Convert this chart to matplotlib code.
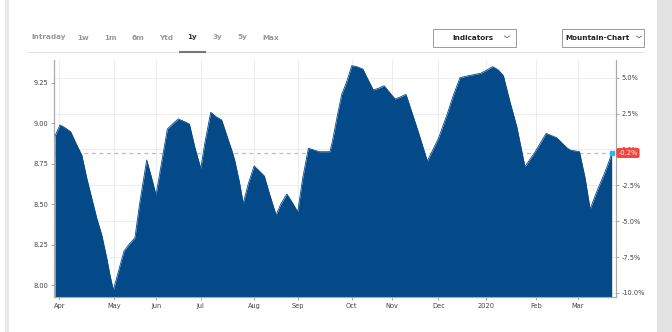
import matplotlib
matplotlib.use("Agg")
import matplotlib.pyplot as plt
from matplotlib.patches import Rectangle
from matplotlib.lines import Line2D

# ---- data ----
days = [0, 2.2, 4.4, 6.9, 9.6, 11.8, 14.0, 16.2, 18.4, 20.6, 22.8, 24.2, 25.7,
        27.9, 30.4, 33.0, 35.2, 37.4, 40.4, 42.6, 44.5, 47.0, 49.5, 52.1, 54.3,
        56.5, 59.2, 61.7, 64.2, 66.1, 68.6, 70.9, 73.4, 75.6, 78.3, 79.3, 81.2,
        82.9, 85.2, 87.7, 90.0, 92.2, 94.4, 97.4, 99.4, 102.1, 104.3, 106.9,
        109.1, 111.6, 116.4, 121.1, 122.3, 124.4, 126.3, 128.5, 130.7, 132.9,
        135.6, 137.6, 140.2, 142.4, 144.9, 147.3, 149.8, 152.3, 154.6, 157.1,
        160.0, 164.0, 168.9, 172.6, 175.5, 178.4, 182.1, 187.5, 190.2, 192.8,
        195.3, 197.5, 200.4, 203.4, 207.0, 211.5, 214.0, 216.3, 221.0, 225.4,
        226.9, 231.0, 233.5, 235.7, 238.6, 242.3, 244.5, 245.2]
prices = [8.920, 8.988, 8.971, 8.946, 8.864, 8.802, 8.659, 8.535, 8.412, 8.309,
          8.165, 8.062, 7.969, 8.082, 8.210, 8.257, 8.292, 8.514, 8.772, 8.659,
          8.556, 8.761, 8.963, 8.998, 9.025, 9.012, 8.994, 8.844, 8.720, 8.885,
          9.066, 9.039, 9.019, 8.926, 8.813, 8.761, 8.638, 8.504, 8.628, 8.735,
          8.704, 8.673, 8.566, 8.432, 8.498, 8.562, 8.514, 8.452, 8.659, 8.844,
          8.823, 8.823, 8.895, 9.049, 9.177, 9.255, 9.354, 9.348, 9.333, 9.276,
          9.204, 9.214, 9.230, 9.190, 9.148, 9.162, 9.177, 9.070, 8.946, 8.765,
          8.906, 9.049, 9.173, 9.280, 9.292, 9.307, 9.327, 9.348, 9.327, 9.292,
          9.131, 8.977, 8.730, 8.823, 8.881, 8.936, 8.909, 8.848, 8.833, 8.823,
          8.659, 8.469, 8.576, 8.699, 8.782, 8.815]
month_pos = [1.9, 25.9, 44.6, 64.2, 87.8, 106.9, 130.7, 148.5, 168.9, 189.7, 211.9, 230.3]
month_labels = ["Apr", "May", "Jun", "Jul", "Aug", "Sep", "Oct", "Nov", "Dec", "2020", "Feb", "Mar"]
price_ticks = [8.00, 8.25, 8.50, 8.75, 9.00, 9.25]
pct_ticks = [5.0, 2.5, 0.0, -2.5, -5.0, -7.5, -10.0]
last_change_label = "-0.2%"
tabs = ["Intraday", "1w", "1m", "6m", "Ytd", "1y", "3y", "5y", "Max"]
tab_x = [49, 83, 111, 138, 166, 192, 217, 242, 271]

W, H = 672, 332
fig = plt.figure(figsize=(W / 100, H / 100), dpi=100)
fig.patch.set_facecolor("white")

def fx(px):
    return px / W

def fy(py):
    return 1 - py / H

# side gray stripes
fig.add_artist(Rectangle((fx(657), 0), fx(15), 1, transform=fig.transFigure,
                         color="#e3e3e3", lw=0, zorder=0))
fig.add_artist(Rectangle((fx(5), 0), fx(4), 1, transform=fig.transFigure,
                         color="#e8e8e8", lw=0, zorder=0))

# tabs
for t, x in zip(tabs, tab_x):
    sel = (t == "1y")
    fig.text(fx(x), fy(37.5), t, ha="center", va="center", fontsize=5.2,
             fontweight="bold", color="#333333" if sel else "#999999")
fig.add_artist(Line2D([fx(27), fx(644)], [fy(51.5), fy(51.5)], transform=fig.transFigure,
                      color="#e6e6e6", lw=0.8))
fig.add_artist(Line2D([fx(180), fx(205)], [fy(51.5), fy(51.5)], transform=fig.transFigure,
                      color="#777777", lw=1.5))

# dropdown boxes
for (x0, x1, label, tx, cx) in [(433, 516, "Indicators", 473, 507),
                                (562, 644, "Mountain-Chart", 598, 639)]:
    fig.add_artist(Rectangle((fx(x0), fy(46.7)), fx(x1 - x0), fy(29) - fy(46.7),
                             transform=fig.transFigure, facecolor="white",
                             edgecolor="#9a9a9a", lw=0.7))
    fig.text(fx(tx), fy(38), label, ha="center", va="center", fontsize=5.2,
             fontweight="bold", color="#222222")
    fig.add_artist(Line2D([fx(cx - 2.5), fx(cx), fx(cx + 2.5)],
                          [fy(36), fy(37.8), fy(36)], transform=fig.transFigure,
                          color="#666666", lw=0.6))

# main axes
ax = fig.add_axes([fx(54), fy(297), fx(616 - 54), fy(60) - fy(297)])
ax.set_xlim(-0.44, 247.1)
ax.set_ylim(7.926, 9.389)
ax2 = ax.twinx()
ax2.set_ylim(-10.28, 6.23)

ax.set_zorder(2)
ax2.set_zorder(1)
ax.patch.set_visible(False)
ax.set_axisbelow(True)

fill_color = "#044a89"
ax.axhline(prices[-1], color="#f4a3a3", lw=0.9, ls=(0, (3, 3)), zorder=1)
ax.fill_between(days, prices, 7.926, color=fill_color, lw=0, zorder=2)
ax.plot(days, prices, color=fill_color, lw=0.6, zorder=3)
ax.plot([days[-1]], [prices[-1]], marker="s", ms=2.5, color="#29b6f6", zorder=4,
        clip_on=False)

ax.set_xticks(month_pos)
ax.set_xticklabels(month_labels)
ax.set_yticks(price_ticks)
ax.set_yticklabels([f"{v:.2f}" for v in price_ticks])
ax2.set_yticks(pct_ticks)
ax2.set_yticklabels([f"{v:.1f}%" for v in pct_ticks])

ax.grid(axis="x", color="#ececec", lw=0.7, zorder=0)
ax2.grid(axis="y", color="#ececec", lw=0.7)

for a in (ax, ax2):
    a.spines["top"].set_visible(False)
    for s in ("left", "right", "bottom"):
        a.spines[s].set_color("#aaaaaa")
        a.spines[s].set_linewidth(0.8)
    a.tick_params(labelsize=4.8, colors="#999999", labelcolor="#444444",
                  length=2.5, width=0.6, pad=1.5)

# last value label on right axis
yl = ax.transData.transform((0, prices[-1]))[1]
yfrac = fig.transFigure.inverted().transform((0, yl))[1]
fig.text(fx(628), yfrac, last_change_label, ha="center", va="center", fontsize=4.8,
         color="white",
         bbox=dict(boxstyle="round,pad=0.3,rounding_size=0.3", fc="#f2453d",
                   ec="none"), zorder=10)

fig.savefig("out.png", dpi=100)
